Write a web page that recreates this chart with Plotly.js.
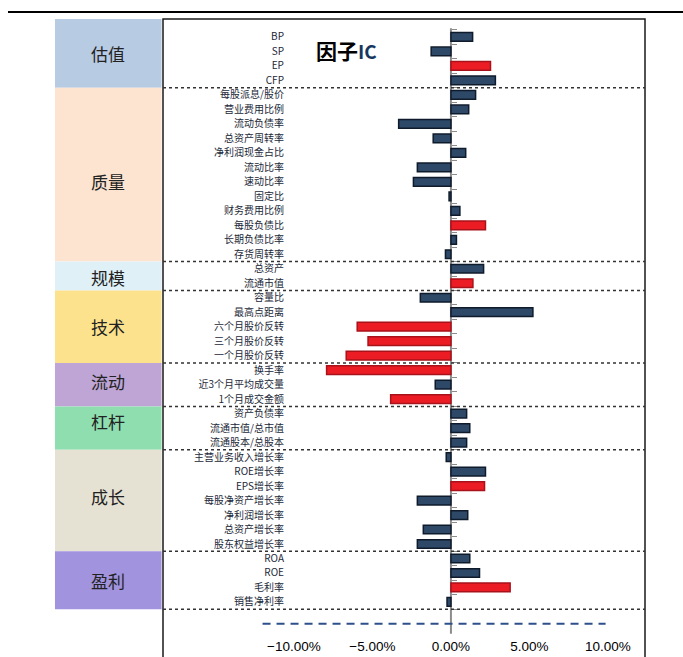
<!DOCTYPE html>
<html>
<head>
<meta charset="utf-8">
<script src="https://cdn.plot.ly/plotly-3.0.1.min.js"></script>
<style>html,body{margin:0;padding:0;background:#fff;}#chart{width:683px;height:657px;}</style>
</head>
<body>
<div id="chart"></div>
<script>
// ---------------- data ----------------
const factors = [
  'BP','SP','EP','CFP',
  '每股派息/股价','营业费用比例','流动负债率','总资产周转率','净利润现金占比','流动比率','速动比率','固定比','财务费用比例','每股负债比','长期负债比率','存货周转率',
  '总资产','流通市值',
  '容量比','最高点距离','六个月股价反转','三个月股价反转','一个月股价反转',
  '换手率','近3个月平均成交量','1个月成交金额',
  '资产负债率','流通市值/总市值','流通股本/总股本',
  '主营业务收入增长率','ROE增长率','EPS增长率','每股净资产增长率','净利润增长率','总资产增长率','股东权益增长率',
  'ROA','ROE','毛利率','销售净利率'
];
const icValues = [
  0.0138,-0.0126,0.0252,0.0283,
  0.0157,0.0113,-0.0333,-0.0113,0.0094,-0.0214,-0.0239,-0.0012,0.0057,0.0220,0.0035,-0.0035,
  0.0208,0.0140,
  -0.0195,0.0522,-0.0597,-0.0528,-0.0667,
  -0.0792,-0.0100,-0.0384,
  0.0100,0.0120,0.0100,
  -0.0030,0.0220,0.0214,-0.0214,0.0107,-0.0176,-0.0214,
  0.0120,0.0182,0.0377,-0.0025
];
const significant = [
  0,0,1,0,
  0,0,0,0,0,0,0,0,0,1,0,0,
  0,1,
  0,0,1,1,1,
  1,0,1,
  0,0,0,
  0,0,1,0,0,0,0,
  0,0,1,0
];
const groups = ['估值','质量','规模','技术','流动','杠杆','成长','盈利'];
const groupSizes = [4,12,2,5,3,3,7,4];
const xTickVals = [-0.10,-0.05,0,0.05,0.10];

// ---------------- style ----------------
const groupColors = ['#b7cbe3','#fde4d0','#dff0f7','#fde28e','#bea5d6','#8fdeb0','#e6e2d3','#a193de'];
const labelShift = [0, 0.45, 0.1, 0, -0.2, -0.45, -0.3, 0.05];
const yTop = -1.24, yBottom = 42.8;
const xRange = [-0.1834, 0.1236];

const barColors = significant.map(s => s ? '#ec1c24' : '#2e4868');
const barLines = significant.map(s => s ? '#a8121a' : '#0f1b2b');

const traces = [{
  type: 'bar',
  orientation: 'h',
  x: icValues,
  y: factors,
  width: 0.6,
  marker: {color: barColors, line: {color: barLines, width: 1.5}},
  hoverinfo: 'skip',
  showlegend: false
}, {
  type: 'scatter', mode: 'markers', x: [null], y: [null], yaxis: 'y2',
  hoverinfo: 'skip', showlegend: false
}];

const shapes = [];
const annotations = [];
// outer box
shapes.push({type:'rect', xref:'paper', yref:'paper', x0:0, x1:1, y0:-0.02, y1:1,
  line:{color:'#1a1a1a', width:1.5}, fillcolor:'rgba(0,0,0,0)', layer:'above'});
// top rule
shapes.push({type:'line', xref:'paper', yref:'paper', x0:-0.3216, x1:1.08, y0:1.011, y1:1.011,
  line:{color:'#000', width:2}});
// group panels and separators
let start = -0.5;
groups.forEach((g, i) => {
  const end = start + groupSizes[i];
  const top = i === 0 ? yTop : start;
  shapes.push({type:'rect', xref:'paper', yref:'y', x0:-0.2241, x1:-0.003, y0:top, y1:end,
    fillcolor:groupColors[i], line:{width:0}, layer:'below'});
  shapes.push({type:'line', xref:'paper', yref:'y', x0:0, x1:1, y0:end, y1:end,
    line:{color:'#333', width:1.5, dash:'dot'}});
  annotations.push({xref:'paper', yref:'y', x:-0.1135, y:(top + end)/2 + labelShift[i], text:g, showarrow:false,
    font:{family:'Noto Sans CJK SC', size:17, color:'#222'}, xanchor:'center', yanchor:'middle'});
  start = end;
});
// zero axis line
shapes.push({type:'line', xref:'x', yref:'y', x0:0, x1:0, y0:-0.6, y1:41.2,
  line:{color:'#8c8c8c', width:2}, layer:'below'});
// dashed horizontal axis line
shapes.push({type:'line', xref:'x', yref:'y', x0:-0.12, x1:0.0985, y0:40.5, y1:40.5,
  line:{color:'#2f4f8a', width:2, dash:'8px,6px'}});

const boundaries = [];
for (let i = 0; i <= factors.length; i++) boundaries.push(i - 0.5);

const layout = {
  width: 683, height: 657, autosize: false,
  margin: {l:163, r:38, t:19, b:0, pad:0},
  paper_bgcolor: '#fff', plot_bgcolor: '#fff',
  title: {
    text: '<b>因子</b><span style="color:#17375e;font-size:19px"><b>IC</b></span>',
    font: {family:'Noto Sans CJK SC', size:21, color:'#000'},
    x: 0.507, xanchor:'center', xref:'container',
    y: 0.922, yanchor:'middle', yref:'container'
  },
  xaxis: {
    range: xRange, tickvals: xTickVals, tickformat: '.2%',
    ticklabelposition: 'inside', ticks: '', showgrid: false, zeroline: false, showline: false,
    tickfont: {family:'Liberation Sans', size:13.5, color:'#000'}, fixedrange: true
  },
  yaxis: {
    type: 'category', categoryorder: 'array', categoryarray: factors,
    range: [yBottom, yTop], anchor: 'free', position: 0.251,
    ticks: '', showgrid: false, zeroline: false, showline: false,
    tickfont: {family:'Noto Sans CJK SC', size:10, color:'#1c2838'}, fixedrange: true
  },
  yaxis2: {
    overlaying: 'y', anchor: 'free', position: 0.5985, side: 'right',
    range: [yBottom, yTop], tickvals: boundaries, ticks: 'outside', ticklen: 5, tickwidth: 1,
    tickcolor: '#8c8c8c', showticklabels: false, showgrid: false, zeroline: false, showline: false,
    layer: 'above traces', fixedrange: true
  },
  shapes: shapes,
  annotations: annotations
};

Plotly.newPlot('chart', traces, layout, {staticPlot: true, displayModeBar: false});
</script>
</body>
</html>
